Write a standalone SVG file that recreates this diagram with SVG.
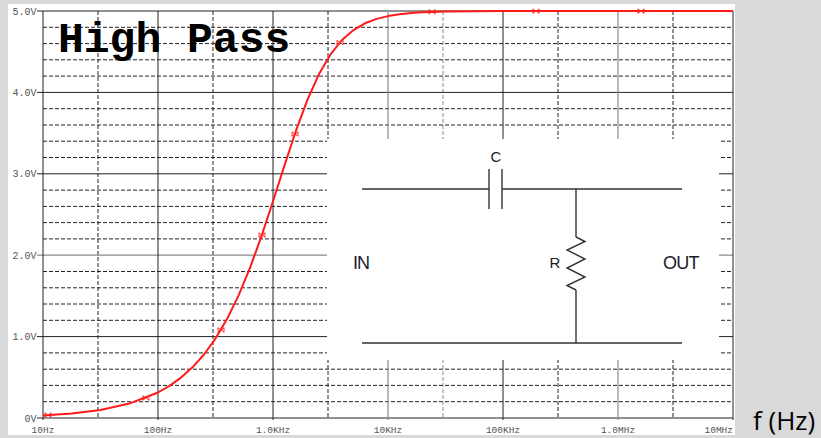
<svg xmlns="http://www.w3.org/2000/svg" width="821" height="438" viewBox="0 0 821 438">
<style>
.maj{stroke:#222;stroke-width:1;fill:none}
.majg{stroke:#8a8a8a;stroke-width:1.2;fill:none}
.min{stroke:#222;stroke-width:1;stroke-dasharray:4 2;fill:none}
.ming{stroke:#888;stroke-width:1;stroke-dasharray:4 2;fill:none}
.ylab{font-family:"Liberation Mono",monospace;font-size:10px;fill:#555;text-anchor:end}
.xlab{font-family:"Liberation Mono",monospace;font-size:9.5px;fill:#555;text-anchor:middle}
.wire{stroke:#333;stroke-width:1.4;fill:none}
.clab{font-family:"Liberation Sans",Arial,sans-serif;fill:#1a1a2a}
.mk{stroke:#ff2020;stroke-width:0.9;fill:none}
</style>
<defs>
<path id="m" class="mk" d="M-3,-2 L3,2 M-3,2 L3,-2 M-3,-2.5 V2.5 M3,-2.5 V2.5"/>
</defs>
<rect x="0" y="0" width="821" height="438" fill="#d9d9d9"/>
<rect x="8" y="4" width="727" height="431" fill="#ffffff"/>
<g id="plot">
<g id="grid-minor-h">
<path class="min" d="M43,27.3H733M43,43.6H733M43,59.8H733M43,76.1H733M43,108.7H733M43,125H733M43,141.2H733M43,157.5H733M43,190.1H733M43,206.4H733M43,222.6H733M43,238.9H733M43,271.5H733M43,287.8H733M43,304H733M43,320.3H733M43,352.9H733M43,369.2H733M43,385.4H733M43,401.7H733"/>
</g>
<g id="grid-minor-v">
<path class="min" d="M98,11V418M213,11V418M328,11V418M558,11V418M673,11V418"/>
<path class="ming" d="M443,11V418"/>
</g>
<g id="grid-major">
<path class="maj" d="M37,11H733M37,92.4H733M37,173.8H733M37,336.6H733M37,418H733"/>
<path class="majg" d="M37,255.2H733"/>
<path class="maj" d="M158,11V420M273,11V420M503,11V420"/>
<path class="majg" d="M388,11V420M618,11V420"/>
<path class="maj" d="M43,11V420M733,11V420"/>
</g>
<g id="y-labels">
<text class="ylab" x="36.5" y="14.5">5.0V</text>
<text class="ylab" x="36.5" y="95.9">4.0V</text>
<text class="ylab" x="36.5" y="177.3">3.0V</text>
<text class="ylab" x="36.5" y="258.7">2.0V</text>
<text class="ylab" x="36.5" y="340.1">1.0V</text>
<text class="ylab" x="36.5" y="421.5">0V</text>
</g>
<g id="x-labels">
<text class="xlab" x="43" y="433">10Hz</text>
<text class="xlab" x="158" y="433">100Hz</text>
<text class="xlab" x="273" y="433">1.0KHz</text>
<text class="xlab" x="388" y="433">10KHz</text>
<text class="xlab" x="503" y="433">100KHz</text>
<text class="xlab" x="618" y="433">1.0MHz</text>
<text class="xlab" x="733" y="433" style="text-anchor:end">10MHz</text>
</g>
<g id="curve">
<polyline fill="none" stroke="#ff1a1a" stroke-width="2" stroke-linejoin="round" points="43,415.4 71.75,413.45 100.5,409.9 129.25,403.6 158,392.5 169.5,385.9 181,377.6 192.5,367.3 204,354.5 215.5,338.6 227,319.1 238.5,295.6 250,267.9 261.5,236.1 273,201.3 284.5,165.4 296,130.7 307.5,99.7 319,74.1 330.5,54.4 342,40 353.5,30.1 365,23.3 376.5,18.9 388,16.1 399.5,14.2 411,13 422.5,12.3 445.5,11.5 503,11.05 733,11"/>
<use href="#m" x="48" y="415"/>
<use href="#m" x="146" y="398"/>
<use href="#m" x="221" y="330"/>
<use href="#m" x="262" y="235"/>
<use href="#m" x="295" y="134"/>
<use href="#m" x="340" y="42.5"/>
<use href="#m" x="432" y="11.8"/>
<use href="#m" x="536" y="11.2"/>
<use href="#m" x="641" y="11.2"/>
</g>
</g>
<g id="title">
<text x="58" y="52" font-family="'Liberation Mono',monospace" font-weight="bold" font-size="43" fill="#000">High Pass</text>
</g>
<g id="axis-unit">
<text x="753" y="430" font-family="'Open Sans','Noto Sans',sans-serif" font-size="26" fill="#000">f (Hz)</text>
</g>
<g id="circuit">
<rect x="327" y="139" width="392" height="221" fill="#ffffff"/>
<g id="capacitor">
<path class="wire" d="M489,169V209M502,169V209"/>
<text class="clab" x="496" y="162" font-size="15" text-anchor="middle">C</text>
</g>
<g id="resistor">
<polyline class="wire" points="576,237 585,241.5 567,250 585,259 567,268 585,277 567,285.5 576,290"/>
<text class="clab" x="555" y="268" font-size="15" text-anchor="middle">R</text>
</g>
<g id="in-label">
<text class="clab" x="353" y="269" font-size="18" letter-spacing="-1">IN</text>
</g>
<g id="out-label">
<text class="clab" x="663" y="269" font-size="18" letter-spacing="-0.8">OUT</text>
</g>
<g id="connectors">
<path class="wire" d="M362,189H489M502,189H682M576,189V237M576,290V343M362,343H682"/>
</g>
</g>
</svg>
